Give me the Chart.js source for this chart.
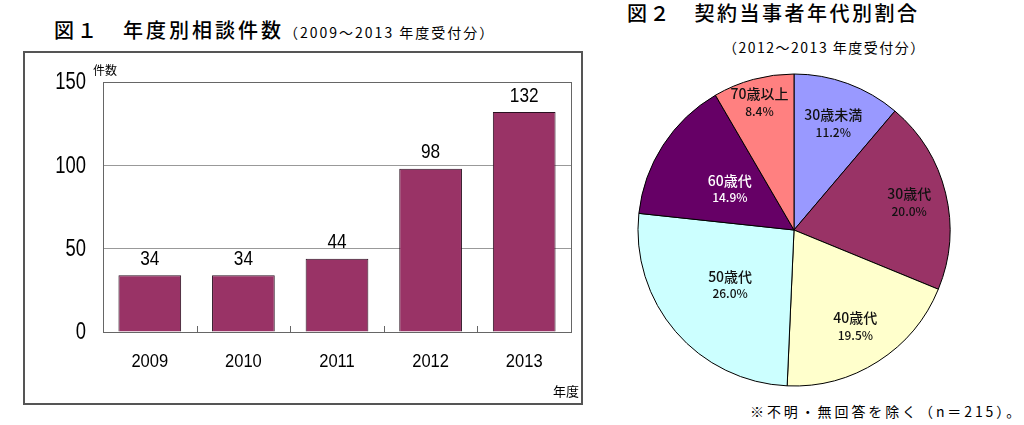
<!DOCTYPE html>
<html lang="ja">
<head>
<meta charset="utf-8">
<script src="https://cdn.jsdelivr.net/npm/chart.js@4/dist/chart.umd.min.js"></script>
<style>
body { margin:0; width:1024px; height:425px; background:#fff; position:relative; overflow:hidden; font-family:"Noto Sans CJK JP", sans-serif; color:#000; }
.t { position:absolute; white-space:nowrap; line-height:1; }
#title1 { left:54px; top:20px; font-size:20px; letter-spacing:3px; font-weight:500; }
#title1 span { font-size:14px; letter-spacing:2px; font-weight:400; }
#title2 { left:627px; top:3px; font-size:20px; letter-spacing:2.5px; font-weight:500; }
#sub2 { left:723px; top:40px; font-size:14px; letter-spacing:1.5px; }
#note { left:750px; top:404px; font-size:14px; letter-spacing:2.9px; }
#barChart { position:absolute; left:0; top:40px; }
#pieChart { position:absolute; left:624px; top:60px; }
</style>
</head>
<body>
<div class="t" id="title1">図１　年度別相談件数<span>（2009～2013 年度受付分）</span></div>
<div class="t" id="title2">図２　契約当事者年代別割合</div>
<div class="t" id="sub2">（2012～2013 年度受付分）</div>
<canvas id="barChart" width="600" height="385"></canvas>
<canvas id="pieChart" width="340" height="340"></canvas>
<div class="t" id="note">※不明・無回答を除く（n＝215）。</div>
<script>
'use strict';

// 図1 data
const years = ['2009', '2010', '2011', '2012', '2013'];
const counts = [34, 34, 44, 98, 132];
const yTickValues = [0, 50, 100, 150];

// 図2 data
const ageGroups = ['30歳未満', '30歳代', '40歳代', '50歳代', '60歳代', '70歳以上'];
const shares = [11.2, 20.0, 19.5, 26.0, 14.9, 8.4];

const jp = "'Noto Sans CJK JP', sans-serif";

Chart.defaults.font.family = jp;
Chart.defaults.color = '#000';

// the original uses a narrow font for numbers, squeeze Liberation Sans a bit
const narrowText = (ctx, text, x, y, size, sx, align) => {
    ctx.save();
    ctx.translate(x, y);
    ctx.scale(sx, 1);
    ctx.font = size + "px 'Liberation Sans', Arial, sans-serif";
    ctx.textAlign = align;
    ctx.textBaseline = 'middle';
    ctx.fillStyle = '#000';
    ctx.fillText(text, 0, 0);
    ctx.restore();
}

const barExtras = {
    id: 'barExtras',
    beforeDraw(chart) {
        const ctx = chart.ctx;
        ctx.save();
        ctx.strokeStyle = '#555';
        ctx.lineWidth = 2;
        ctx.strokeRect(24, 12, 558, 352);
        ctx.restore();
    },
    afterDraw(chart) {
        const ctx = chart.ctx;
        const a = chart.chartArea;
        const x = chart.scales.x;
        const y = chart.scales.y;
        ctx.save();
        ctx.strokeStyle = '#666';
        ctx.lineWidth = 1;
        ctx.strokeRect(a.left + 0.5, a.top + 0.5, a.right - a.left, a.bottom - a.top);

        // small marks between categories, pointing inward
        for (let i = 1; i < years.length; i++) {
            const px = Math.round((x.getPixelForValue(i - 1) + x.getPixelForValue(i)) / 2) + 0.5;
            ctx.beginPath();
            ctx.moveTo(px, a.bottom);
            ctx.lineTo(px, a.bottom - 6);
            ctx.stroke();
        }
        ctx.restore();

        // tick labels
        yTickValues.forEach(v => {
            narrowText(ctx, String(v), a.left - 17, y.getPixelForValue(v) + 1, 23, 0.8, 'right');
        });
        years.forEach((yr, i) => {
            narrowText(ctx, yr, x.getPixelForValue(i), a.bottom + 30, 19, 0.87, 'center');
        });

        // value labels above bars
        chart.getDatasetMeta(0).data.forEach((bar, i) => {
            narrowText(ctx, String(counts[i]), bar.x, bar.y - 16, 21, 0.82, 'center');
        });

        // units
        ctx.save();
        ctx.fillStyle = '#000';
        ctx.textBaseline = 'middle';
        ctx.font = '12px ' + jp;
        ctx.textAlign = 'left';
        ctx.fillText('件数', a.left - 10, a.top - 12);
        ctx.font = '13px ' + jp;
        ctx.textAlign = 'right';
        ctx.fillText('年度', 579, 351);
        ctx.restore();
    }
};

new Chart('barChart', {
    type: 'bar',
    data: {
        labels: years,
        datasets: [{
            label: '件数',
            data: counts,
            backgroundColor: '#993366',
            borderColor: '#2a1020',
            borderWidth: 1,
            categoryPercentage: 1,
            barPercentage: 0.67
        }]
    },
    options: {
        responsive: false,
        animation: false,
        layout: { padding: { left: 0, right: 29, top: 42, bottom: 0 } },
        plugins: { legend: { display: false }, tooltip: { enabled: false } },
        scales: {
            x: {
                grid: { display: false },
                border: { display: false },
                ticks: { display: false },
                afterFit(scale) { scale.height = 93; }
            },
            y: {
                min: 0,
                max: 150,
                afterBuildTicks(scale) { scale.ticks = yTickValues.map(v => ({ value: v })); },
                grid: { color: '#999', drawTicks: false },
                border: { display: false },
                ticks: { display: false },
                afterFit(scale) { scale.width = 103; }
            }
        }
    },
    plugins: [barExtras]
});

// how far out (fraction of radius) each slice's label sits
const labelRadius = [0.73, 0.76, 0.73, 0.54, 0.49, 0.85];
const labelColors = ['#111', '#111', '#111', '#111', '#fff', '#111'];

const pieLabels = {
    id: 'pieLabels',
    afterDraw(chart) {
        const ctx = chart.ctx;
        ctx.save();
        ctx.textAlign = 'center';
        ctx.textBaseline = 'middle';
        chart.getDatasetMeta(0).data.forEach((arc, i) => {
            const mid = (arc.startAngle + arc.endAngle) / 2;
            const r = arc.outerRadius * labelRadius[i];
            const cx = arc.x + Math.cos(mid) * r;
            const cy = arc.y + Math.sin(mid) * r;
            ctx.fillStyle = labelColors[i];
            ctx.font = '500 14px ' + jp;
            ctx.fillText(ageGroups[i], cx, cy - 8);
            ctx.font = '500 12px ' + jp;
            ctx.fillText(shares[i].toFixed(1) + '%', cx, cy + 9);
        });
        ctx.restore();
    }
};

new Chart('pieChart', {
    type: 'pie',
    data: {
        labels: ageGroups,
        datasets: [{
            data: shares,
            backgroundColor: ['#9999FF', '#993366', '#FFFFCC', '#CCFFFF', '#660066', '#FF8080'],
            borderColor: '#000',
            borderWidth: 1,
            radius: 156
        }]
    },
    options: {
        responsive: false,
        animation: false,
        plugins: { legend: { display: false }, tooltip: { enabled: false } }
    },
    plugins: [pieLabels]
});
</script>
</body>
</html>
